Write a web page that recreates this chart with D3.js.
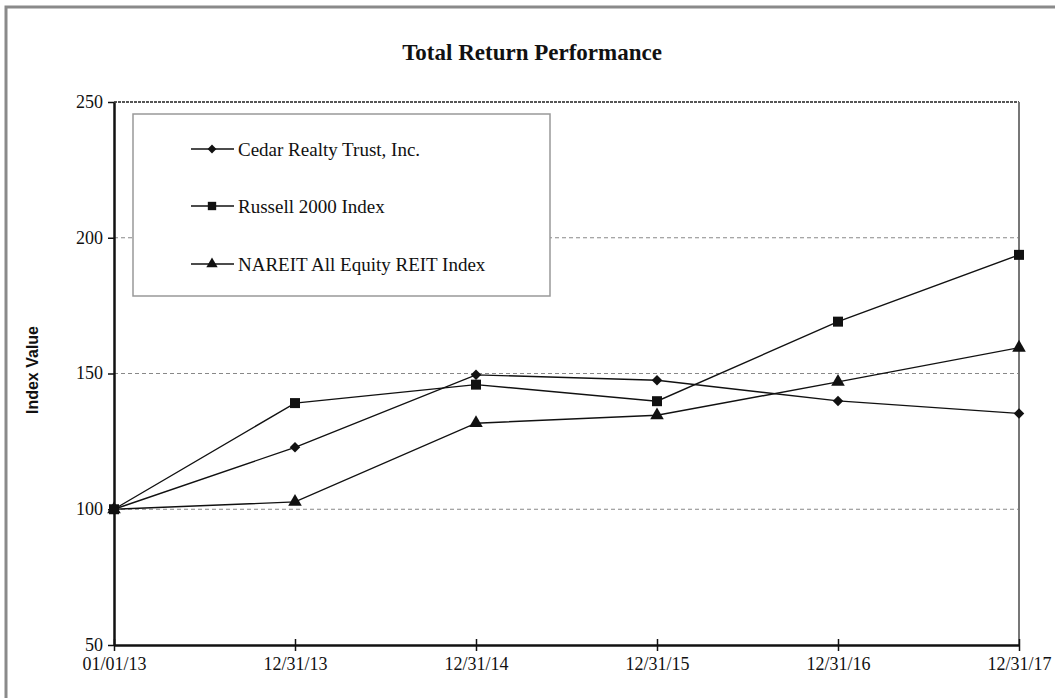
<!DOCTYPE html>
<html lang="en">
<head>
  <meta charset="UTF-8">
  <title>Total Return Performance</title>
  <script src="https://d3js.org/d3.v7.min.js"></script>
  <style>
    body {
      margin: 0;
      background-color: #ffffff;
    }
    svg {
      display: block;
    }
    .serif {
      font-family: 'Liberation Serif', 'Times New Roman', serif;
      fill: #111;
    }
    .series {
      fill: none;
      stroke: #111;
      stroke-width: 1.4px;
    }
  </style>
</head>
<body>
  <svg width="1055" height="698"></svg>

  <script>
    const dates = ["01/01/13", "12/31/13", "12/31/14", "12/31/15", "12/31/16", "12/31/17"];
    const cedar = [100, 122.8, 149.5, 147.5, 139.9, 135.3];
    const russell = [100, 139.1, 145.9, 139.8, 169.1, 193.7];
    const nareit = [100, 102.7, 131.7, 134.6, 146.9, 159.5];
    const yTicks = [50, 100, 150, 200, 250];
    const gridValues = [100, 150, 200];

    const seriesList = [
      { name: "Cedar Realty Trust, Inc.", values: cedar, symbol: d3.symbolDiamond2, size: 70 },
      { name: "Russell 2000 Index", values: russell, symbol: d3.symbolSquare, size: 100 },
      { name: "NAREIT All Equity REIT Index", values: nareit, symbol: d3.symbolTriangle, size: 80 }
    ];

    const svg = d3.select("svg");
    const plotLeft = 114, plotRight = 1019, plotTop = 102, plotBottom = 645;
    const serifFont = "'Liberation Serif', 'Times New Roman', serif";

    const x = d3.scalePoint().domain(dates).range([plotLeft, plotRight]);
    const y = d3.scaleLinear().domain([50, 250]).range([plotBottom, plotTop]);

    // outer frame
    svg.append("rect")
      .attr("x", 6).attr("y", 7)
      .attr("width", 1080).attr("height", 720)
      .attr("fill", "none")
      .attr("stroke", "#8a8a8a")
      .attr("stroke-width", 3);

    // title
    svg.append("text")
      .attr("class", "serif")
      .attr("x", 532).attr("y", 60)
      .attr("text-anchor", "middle")
      .attr("font-size", 23)
      .attr("font-weight", "bold")
      .text("Total Return Performance");

    // grid lines
    svg.append("g")
      .selectAll("line")
      .data(gridValues)
      .enter()
      .append("line")
      .attr("x1", plotLeft).attr("x2", plotRight)
      .attr("y1", d => y(d)).attr("y2", d => y(d))
      .attr("stroke", "#888")
      .attr("stroke-width", 1)
      .attr("stroke-dasharray", "4,3");

    // top border (dotted) and right border
    svg.append("line")
      .attr("x1", plotLeft).attr("x2", plotRight)
      .attr("y1", y(250)).attr("y2", y(250))
      .attr("stroke", "#555")
      .attr("stroke-width", 2)
      .attr("stroke-dasharray", "3,1");
    svg.append("line")
      .attr("x1", plotRight).attr("x2", plotRight)
      .attr("y1", y(250)).attr("y2", y(50))
      .attr("stroke", "#777")
      .attr("stroke-width", 2);

    // y axis
    const yAxis = svg.append("g")
      .attr("transform", `translate(${plotLeft},0)`)
      .call(d3.axisLeft(y).tickValues(yTicks).tickSize(6).tickPadding(5).tickSizeOuter(0))
      .attr("font-family", serifFont)
      .attr("font-size", 18);
    yAxis.select(".domain").attr("stroke", "#111").attr("stroke-width", 2.5);
    yAxis.selectAll(".tick line").attr("stroke", "#111").attr("stroke-width", 1.5);
    yAxis.selectAll(".tick text").attr("dy", "0.3em").attr("fill", "#111");

    // x axis
    const xAxis = svg.append("g")
      .attr("transform", `translate(0,${plotBottom})`)
      .call(d3.axisBottom(x).tickSize(6).tickPadding(6).tickSizeOuter(0))
      .attr("font-family", serifFont)
      .attr("font-size", 18);
    xAxis.select(".domain").attr("stroke", "#111").attr("stroke-width", 2.5);
    xAxis.selectAll(".tick line").attr("stroke", "#111").attr("stroke-width", 1.5).attr("y1", -6);
    xAxis.selectAll(".tick text").attr("fill", "#111");

    // y axis title
    svg.append("text")
      .attr("transform", "translate(38,370) rotate(-90)")
      .attr("text-anchor", "middle")
      .attr("font-family", "'Liberation Sans', Arial, sans-serif")
      .attr("font-weight", "bold")
      .attr("font-size", 16)
      .attr("fill", "#111")
      .text("Index Value");

    // series lines and markers
    const line = d3.line()
      .x((d, i) => x(dates[i]))
      .y(d => y(d));

    seriesList.forEach(s => {
      svg.append("path")
        .attr("class", "series")
        .attr("d", line(s.values));
      svg.append("g")
        .selectAll("path")
        .data(s.values)
        .enter()
        .append("path")
        .attr("d", d3.symbol().type(s.symbol).size(s.size))
        .attr("transform", (d, i) => `translate(${x(dates[i])},${y(d)})`)
        .attr("fill", "#111");
    });

    // legend
    const legend = svg.append("g");
    legend.append("rect")
      .attr("x", 133).attr("y", 114)
      .attr("width", 417).attr("height", 182)
      .attr("fill", "#fff")
      .attr("stroke", "#999")
      .attr("stroke-width", 1.5);

    const rowY = [149, 206, 264];
    seriesList.forEach((s, i) => {
      const g = legend.append("g").attr("transform", `translate(0,${rowY[i]})`);
      g.append("line")
        .attr("x1", 191).attr("x2", 234)
        .attr("stroke", "#111").attr("stroke-width", 1.4);
      g.append("path")
        .attr("d", d3.symbol().type(s.symbol).size(s.size * 0.7))
        .attr("transform", "translate(212,0)")
        .attr("fill", "#111");
      g.append("text")
        .attr("class", "serif")
        .attr("x", 238)
        .attr("dy", "0.35em")
        .attr("font-size", 19)
        .text(s.name);
    });
  </script>
</body>
</html>
